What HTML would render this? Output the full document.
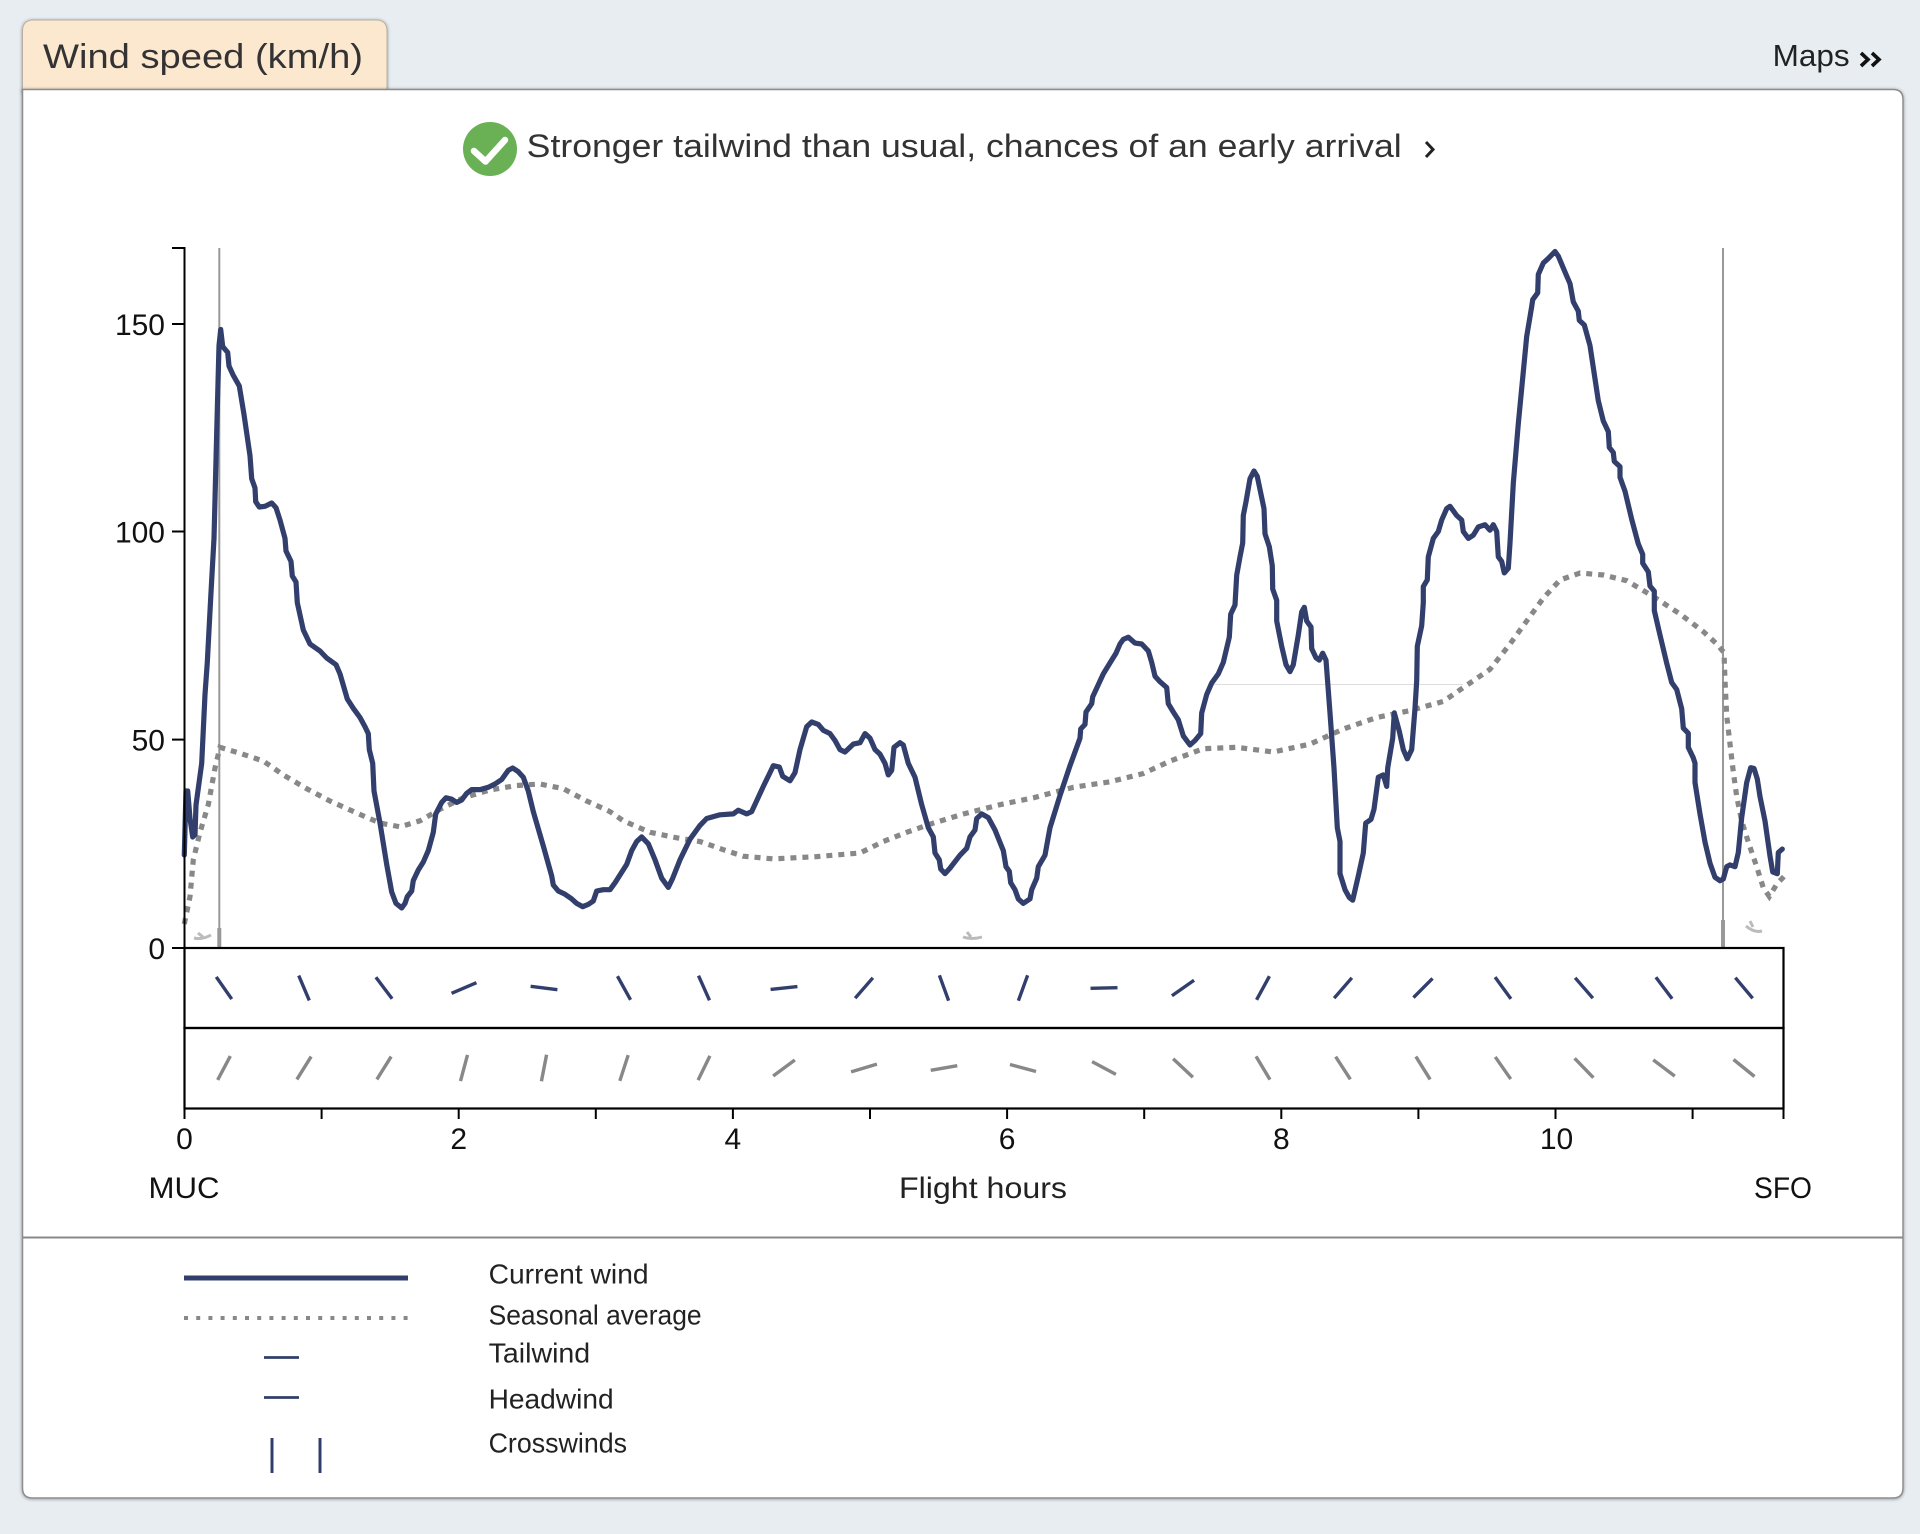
<!DOCTYPE html>
<html><head><meta charset="utf-8"><style>
html,body{margin:0;padding:0;background:#e8edf1;}
svg{display:block}
text{font-family:"Liberation Sans",sans-serif;}
</style></head><body>
<svg width="1920" height="1534" viewBox="0 0 1920 1534" xmlns="http://www.w3.org/2000/svg">
<defs>
<filter id="sh" x="-5%" y="-5%" width="110%" height="110%"><feDropShadow dx="0" dy="0.5" stdDeviation="1.6" flood-color="#000" flood-opacity="0.4"/></filter>
</defs>
<rect width="1920" height="1534" fill="#e8edf1"/>
<!-- tab -->
<path d="M22.5,92 V31 Q22.5,20 33.5,20 H376 Q387,20 387,31 V92 Z" fill="#fbe8cf" stroke="#b8b0a4" stroke-width="1" filter="url(#sh)"/>
<text x="43" y="68" font-size="34" fill="#333" textLength="320" lengthAdjust="spacingAndGlyphs">Wind speed (km/h)</text>
<!-- Maps -->
<text x="1772.7" y="66" font-size="31" fill="#222" textLength="77" lengthAdjust="spacingAndGlyphs">Maps</text>
<path d="M1861,53 L1868,59.5 L1861,66 M1872,53 L1879,59.5 L1872,66" fill="none" stroke="#111" stroke-width="3.6"/>
<!-- panel -->
<path d="M22.5,89.5 H1893 Q1903,89.5 1903,99.5 V1488 Q1903,1498 1893,1498 H32.5 Q22.5,1498 22.5,1488 Z" fill="#fff" stroke="#8d8d8d" stroke-width="1.5" filter="url(#sh)"/>
<!-- headline -->
<circle cx="490" cy="149" r="27" fill="#6ab155"/>
<path d="M474,151 L485.5,161.5 L505,140" fill="none" stroke="#fff" stroke-width="6.5" stroke-linecap="round" stroke-linejoin="round"/>
<text x="526.7" y="157" font-size="32" fill="#333" textLength="875" lengthAdjust="spacingAndGlyphs">Stronger tailwind than usual, chances of an early arrival</text>
<path d="M1426,142 L1433,149.5 L1426,157" fill="none" stroke="#222" stroke-width="3"/>

<!-- vertical grey lines -->
<line x1="219.3" y1="248" x2="219.3" y2="948" stroke="#999" stroke-width="2"/>
<line x1="1723" y1="248" x2="1723" y2="948" stroke="#999" stroke-width="2"/>
<line x1="219.3" y1="928" x2="219.3" y2="947" stroke="#999" stroke-width="4"/>
<line x1="1723" y1="920" x2="1723" y2="947" stroke="#999" stroke-width="4"/>
<line x1="1213" y1="684.5" x2="1463" y2="684.5" stroke="#ddd" stroke-width="1"/>
<!-- little grey markers -->
<path d="M194,938 Q202,940 211,935 M198,933 l5,4" fill="none" stroke="#bbb" stroke-width="3"/>
<path d="M963,937 Q972,940 982,937 M967,932 l4,5" fill="none" stroke="#bbb" stroke-width="3"/>
<path d="M1746,926 Q1754,933 1762,931 M1750,921 l3,6" fill="none" stroke="#bbb" stroke-width="3"/>

<!-- seasonal average -->
<polyline fill="none" stroke="#888" stroke-width="5.2" stroke-dasharray="6 6" points="184.3,924 190,896.6 193.3,859.8 200,832.3 208.3,804.7 215,768 220,747.3 240,753.3 263.3,761 283.3,774.9 306.7,788.7 330,801 356.7,813 380,823 400,826.8 420,820.8 440,809.3 463.3,797.8 490,790 516.7,785.5 540,784 563.3,788.7 586.7,801 610,811.6 623.3,820.8 650,832.3 676.7,837.8 700,841.5 723.3,849.7 743.3,856.2 773.3,858.9 816.7,856.6 860,853 883.3,841.5 906.7,832.3 933.3,823.1 963.3,814 1000,804.7 1033.3,797.8 1073.3,787.3 1110,781.8 1143.3,773.5 1170,761.1 1203.3,748.7 1236.7,747.3 1273.3,752 1310,744.1 1343.3,729 1376.7,717.5 1410,710.6 1443.3,701.4 1463.3,687.6 1490,669.3 1510,644 1526.7,621 1543.3,598.1 1560,580 1580,573 1603.3,575 1626.7,580.7 1653.3,596.5 1680,614 1703.3,631.6 1716.7,643.9 1724,652.6 1725,680.7 1726.7,715.8 1730,743.9 1733.3,771.9 1736.7,796.5 1741.7,821 1748.3,842.1 1756.7,866.7 1763.3,887.7 1769.3,896.5 1776.7,884.2 1785,875.4"/>

<!-- current wind -->
<polyline fill="none" stroke="#323f6c" stroke-width="5.2" stroke-linejoin="round" stroke-linecap="round" points="184.3,855 186,791 187.7,791 190,818.5 192.7,837 195,834.6 196,805 201.7,763.4 205,694.5 207.3,662.4 210.7,598 214,538.4 216.7,432.8 219,345.6 220.7,329.5 222.7,346.5 227.7,352.5 229,366 233.3,375.4 239.3,386 244,414.5 250,455.8 251.7,478.7 255,488 255.7,501.7 259.3,507 265,506.3 271.7,503 276,507.7 280,520 285,538.4 286,551 291,561.4 292.3,576 296,582 297.3,602.7 303.3,630 310,644 320,651 326.7,658 336,664.7 340,673.9 347.3,699 353.3,708.3 360,717.5 365,726.7 368.3,733.6 369.3,749.6 372.7,763.4 374,791 380,823 386.7,864.4 391.7,892 396,903.4 401.7,908 405,903.4 407.3,896.6 411.7,891 413.3,880.5 418.3,870 423.3,862 428.3,850.6 433.3,832.3 435.7,814 441.7,802.4 446,797.8 451.7,799.2 456.7,802.4 461.7,800 466.7,793.3 471.7,789.6 480,789.6 488.3,787.3 495,784 501.7,779.5 508.3,770.3 512.7,768 518.3,771.7 523.3,777.2 528.3,791 533.3,811.6 543.3,846 551.7,876 553.3,885 558.3,891 565,894.2 571.7,898.9 576.7,903.4 582.7,906.7 588.3,904.4 593.3,901 596.7,891 603.3,889.7 610,889.7 615,882.8 626.7,864.4 631.7,850.6 636.7,841.5 641.7,836.9 648.3,843.8 655,859.8 661.7,878.2 668.3,887.4 672.7,878.2 680,859.8 690,839.2 700,825.4 706.7,818.5 720,814.8 733.3,813.9 738.3,810.2 746.7,813.9 751.7,811.6 763.3,786.4 770,772.6 773.3,765.7 779.3,767 782.7,776.3 790,780.8 795,772.6 800,749.6 806.7,726.7 811.7,722 818.3,724.4 823.3,730.3 830,733.6 835,740.5 840,749.6 845,752 853.3,744.1 860,742.7 865,733.6 870,738.2 875,749.6 880,754.2 885,763.4 888.3,774.9 891.7,770.3 894,747.3 900,742.7 903.3,745 908.3,763.4 915,777.2 921.7,804.7 928.3,827.7 933.3,836.9 935,853 939.3,859.8 940.7,869 945,873.6 950,868.1 960,855.2 966.7,848.3 970,836.9 975,830 976.7,818.5 981.7,813.9 988.3,817.6 995,830 1003.3,850.6 1006,866.7 1009.3,871.3 1010.7,882.8 1015,889.7 1018.3,898.9 1023.3,903.4 1030,898.9 1031.7,889.7 1036.7,878.2 1038.3,866.7 1045,855.2 1048.3,836.9 1050,827.7 1060,795.5 1070,765.7 1080,738.2 1080.7,729 1085,724.4 1086,712 1091.7,703.7 1092.7,696.8 1103.3,673.9 1111.7,660.1 1116,653.2 1120,644 1123.3,639.4 1128.3,637.2 1135,643.1 1141.7,644 1148.3,650.9 1151.7,662.4 1155,676.2 1160,681.7 1166.7,687.6 1168.3,703.7 1173.3,712 1178.3,719.8 1183.3,735.9 1190,745 1195,740.5 1200.7,733.6 1201.7,712.9 1206.7,694.5 1211.7,683 1218.3,673.9 1223.3,662.4 1229.3,637.2 1230.7,614.2 1235,605 1236.7,575.2 1240,556.8 1242.7,543 1243.3,515.5 1246,501.7 1250,478.7 1254,471 1257.3,476.5 1264,508.6 1265,533.8 1269.3,546.7 1272.3,566 1272.7,589 1276.7,600.4 1276.7,621 1281.7,646.3 1286,664.7 1290,671.6 1293.3,664.7 1298.3,634.9 1301.7,611.9 1304.3,607.3 1306.7,621 1311,627 1311.7,648.6 1316,657.8 1319.3,660.1 1322.7,653.2 1326,660.1 1330,713 1334,768 1337.3,827.7 1340,841.5 1340,873.6 1345,889.7 1349.3,897.5 1352.7,900.2 1358.3,875.9 1363.3,853 1365.7,823.1 1371,819.4 1374,809.3 1378.3,777.2 1383.3,774.9 1386.7,786.4 1387.7,768 1392.7,738.2 1394.3,712.9 1399.3,731.3 1403.3,749.6 1407.3,758.8 1411.7,749.6 1415,708.3 1416.7,680.8 1417.3,646.3 1421.7,625.7 1423.3,602.7 1423.3,586.6 1427.3,579.8 1428.3,556.8 1433.3,538.4 1438.3,531.5 1441.7,520 1446.7,508.6 1450,506.3 1456.7,515.5 1461.7,520 1463.3,531.5 1468.3,538.4 1473.3,535.2 1478.3,527 1485,524.7 1490,530.2 1493.3,524.7 1496.7,531.5 1498.3,556.8 1501.7,561.4 1504.3,572.9 1508.3,568.3 1510,543 1513.3,483.3 1518.3,423.7 1526.7,336.4 1531.7,306.6 1532.7,299.7 1537.7,292.8 1538.3,274.4 1543.3,263 1548.3,258.4 1555,251.5 1558.3,256.1 1566,274.4 1570,283.6 1573.3,301.9 1578.3,311.2 1579.3,320.3 1584.3,325 1590,345.6 1598.3,400.7 1603.3,421 1608.3,431.6 1609.3,447.4 1613.3,452.6 1614.3,461.4 1620,466.7 1620,477.2 1625,491.2 1631.7,519.3 1638.3,543.9 1642.7,554.4 1642.7,563.2 1648.3,571.9 1650,586 1654.3,591.2 1654.3,610.5 1660,635.1 1666.7,663.2 1671.7,682.5 1676.7,689.5 1681.7,708.8 1683.3,728.1 1688.3,733.3 1688.3,747.4 1693.3,757.9 1695,763.2 1695,782.5 1700,814 1705,842.1 1710,863.2 1715,877.2 1720,880.7 1723.3,879 1726.7,866.7 1730,864.9 1735,866.7 1738.3,852.6 1741.7,817.5 1746.7,782.5 1750.7,767.7 1754,768.4 1757.3,779 1760,796.5 1765,821 1770,856.1 1772.7,871.9 1777.3,873.7 1778.3,852.6 1782.3,849.1"/>

<!-- y axis -->
<path d="M172,248 H184.5 V948" fill="none" stroke="#000" stroke-width="2"/>
<g stroke="#000" stroke-width="2">
<line x1="172" y1="324" x2="184" y2="324"/>
<line x1="172" y1="531.5" x2="184" y2="531.5"/>
<line x1="172" y1="739.6" x2="184" y2="739.6"/>
<line x1="172" y1="948" x2="184" y2="948"/>
</g>
<g font-size="30" fill="#111" text-anchor="end">
<text x="165" y="335">150</text>
<text x="165" y="542.5">100</text>
<text x="165" y="750.6">50</text>
<text x="165" y="959">0</text>
</g>

<!-- barb boxes -->
<rect x="184.5" y="948" width="1599" height="80" fill="none" stroke="#000" stroke-width="2.2"/>
<rect x="184.5" y="1028" width="1599" height="80.5" fill="none" stroke="#000" stroke-width="2.2"/>
<!-- x ticks -->
<g stroke="#000" stroke-width="2">
<line x1="184.5" y1="1108" x2="184.5" y2="1119"/>
<line x1="321.6" y1="1108" x2="321.6" y2="1119"/>
<line x1="458.7" y1="1108" x2="458.7" y2="1119"/>
<line x1="595.8" y1="1108" x2="595.8" y2="1119"/>
<line x1="732.9" y1="1108" x2="732.9" y2="1119"/>
<line x1="870" y1="1108" x2="870" y2="1119"/>
<line x1="1007.1" y1="1108" x2="1007.1" y2="1119"/>
<line x1="1144.2" y1="1108" x2="1144.2" y2="1119"/>
<line x1="1281.3" y1="1108" x2="1281.3" y2="1119"/>
<line x1="1418.4" y1="1108" x2="1418.4" y2="1119"/>
<line x1="1555.5" y1="1108" x2="1555.5" y2="1119"/>
<line x1="1692.6" y1="1108" x2="1692.6" y2="1119"/>
<line x1="1783.5" y1="1108" x2="1783.5" y2="1119"/>
</g>
<g font-size="30" fill="#111" text-anchor="middle">
<text x="184.5" y="1149">0</text>
<text x="458.7" y="1149">2</text>
<text x="732.9" y="1149">4</text>
<text x="1007.1" y="1149">6</text>
<text x="1281.3" y="1149">8</text>
<text x="1556.5" y="1149">10</text>
</g>
<g font-size="30" fill="#111" text-anchor="middle">
<text x="184" y="1198" textLength="71" lengthAdjust="spacingAndGlyphs">MUC</text>
<text x="983" y="1198" fill="#222" textLength="168" lengthAdjust="spacingAndGlyphs">Flight hours</text>
<text x="1783" y="1198" textLength="58" lengthAdjust="spacingAndGlyphs">SFO</text>
</g>

<!-- barbs top (navy) -->
<g stroke="#323f6c" stroke-width="3.4">
<line x1="-13.5" y1="0" x2="13.5" y2="0" transform="translate(224,988) rotate(55)"/>
<line x1="-13.5" y1="0" x2="13.5" y2="0" transform="translate(304,988) rotate(67)"/>
<line x1="-13.5" y1="0" x2="13.5" y2="0" transform="translate(384,988) rotate(53)"/>
<line x1="-13.5" y1="0" x2="13.5" y2="0" transform="translate(464,988) rotate(-23)"/>
<line x1="-13.5" y1="0" x2="13.5" y2="0" transform="translate(544,988) rotate(7)"/>
<line x1="-13.5" y1="0" x2="13.5" y2="0" transform="translate(624,988) rotate(61)"/>
<line x1="-13.5" y1="0" x2="13.5" y2="0" transform="translate(704,988) rotate(66)"/>
<line x1="-13.5" y1="0" x2="13.5" y2="0" transform="translate(784,988) rotate(-6)"/>
<line x1="-13.5" y1="0" x2="13.5" y2="0" transform="translate(864,988) rotate(-49)"/>
<line x1="-13.5" y1="0" x2="13.5" y2="0" transform="translate(944,988) rotate(70)"/>
<line x1="-13.5" y1="0" x2="13.5" y2="0" transform="translate(1023,988) rotate(-70)"/>
<line x1="-13.5" y1="0" x2="13.5" y2="0" transform="translate(1104,988) rotate(-1.5)"/>
<line x1="-13.5" y1="0" x2="13.5" y2="0" transform="translate(1183,988) rotate(-35)"/>
<line x1="-13.5" y1="0" x2="13.5" y2="0" transform="translate(1263,988) rotate(-61.5)"/>
<line x1="-13.5" y1="0" x2="13.5" y2="0" transform="translate(1343,988) rotate(-49)"/>
<line x1="-13.5" y1="0" x2="13.5" y2="0" transform="translate(1423,988) rotate(-45)"/>
<line x1="-13.5" y1="0" x2="13.5" y2="0" transform="translate(1503,988) rotate(54)"/>
<line x1="-13.5" y1="0" x2="13.5" y2="0" transform="translate(1584,988) rotate(49)"/>
<line x1="-13.5" y1="0" x2="13.5" y2="0" transform="translate(1664,988) rotate(53)"/>
<line x1="-13.5" y1="0" x2="13.5" y2="0" transform="translate(1744,988) rotate(50)"/>
</g>
<!-- barbs bottom (grey) -->
<g stroke="#888" stroke-width="3.4">
<line x1="-13.5" y1="0" x2="13.5" y2="0" transform="translate(224,1068) rotate(-62)"/>
<line x1="-13.5" y1="0" x2="13.5" y2="0" transform="translate(304,1068) rotate(-58)"/>
<line x1="-13.5" y1="0" x2="13.5" y2="0" transform="translate(384,1068) rotate(-58)"/>
<line x1="-13.5" y1="0" x2="13.5" y2="0" transform="translate(464,1068) rotate(-75)"/>
<line x1="-13.5" y1="0" x2="13.5" y2="0" transform="translate(544,1068) rotate(-79)"/>
<line x1="-13.5" y1="0" x2="13.5" y2="0" transform="translate(624,1068) rotate(-72)"/>
<line x1="-13.5" y1="0" x2="13.5" y2="0" transform="translate(704,1068) rotate(-64)"/>
<line x1="-13.5" y1="0" x2="13.5" y2="0" transform="translate(784,1068) rotate(-36.5)"/>
<line x1="-13.5" y1="0" x2="13.5" y2="0" transform="translate(864,1068) rotate(-16.7)"/>
<line x1="-13.5" y1="0" x2="13.5" y2="0" transform="translate(944,1068) rotate(-9.8)"/>
<line x1="-13.5" y1="0" x2="13.5" y2="0" transform="translate(1023,1068) rotate(15)"/>
<line x1="-13.5" y1="0" x2="13.5" y2="0" transform="translate(1104,1068) rotate(28)"/>
<line x1="-13.5" y1="0" x2="13.5" y2="0" transform="translate(1183,1068) rotate(43)"/>
<line x1="-13.5" y1="0" x2="13.5" y2="0" transform="translate(1263,1068) rotate(59)"/>
<line x1="-13.5" y1="0" x2="13.5" y2="0" transform="translate(1343,1068) rotate(57)"/>
<line x1="-13.5" y1="0" x2="13.5" y2="0" transform="translate(1423,1068) rotate(58)"/>
<line x1="-13.5" y1="0" x2="13.5" y2="0" transform="translate(1503,1068) rotate(55)"/>
<line x1="-13.5" y1="0" x2="13.5" y2="0" transform="translate(1584,1068) rotate(46)"/>
<line x1="-13.5" y1="0" x2="13.5" y2="0" transform="translate(1664,1068) rotate(37)"/>
<line x1="-13.5" y1="0" x2="13.5" y2="0" transform="translate(1744,1068) rotate(39)"/>
</g>

<!-- separator -->
<line x1="23" y1="1237.5" x2="1902.5" y2="1237.5" stroke="#888" stroke-width="2"/>

<!-- legend -->
<line x1="184" y1="1278" x2="408" y2="1278" stroke="#323f6c" stroke-width="5"/>
<line x1="184" y1="1318" x2="408" y2="1318" stroke="#888" stroke-width="4" stroke-dasharray="4 8.2"/>
<line x1="264" y1="1357.5" x2="299" y2="1357.5" stroke="#323f6c" stroke-width="2.8"/>
<line x1="264" y1="1397.5" x2="299" y2="1397.5" stroke="#323f6c" stroke-width="2.8"/>
<line x1="272" y1="1438" x2="272" y2="1473" stroke="#323f6c" stroke-width="3"/>
<line x1="320" y1="1438" x2="320" y2="1473" stroke="#323f6c" stroke-width="3"/>
<g font-size="28" fill="#222">
<text x="488.6" y="1283.3" textLength="160" lengthAdjust="spacingAndGlyphs">Current wind</text>
<text x="488.6" y="1324.3" textLength="213" lengthAdjust="spacingAndGlyphs">Seasonal average</text>
<text x="488.6" y="1362.3" textLength="101.6" lengthAdjust="spacingAndGlyphs">Tailwind</text>
<text x="488.6" y="1408.3" textLength="125" lengthAdjust="spacingAndGlyphs">Headwind</text>
<text x="488.6" y="1452.7" textLength="138.4" lengthAdjust="spacingAndGlyphs">Crosswinds</text>
</g>
</svg>
</body></html>
